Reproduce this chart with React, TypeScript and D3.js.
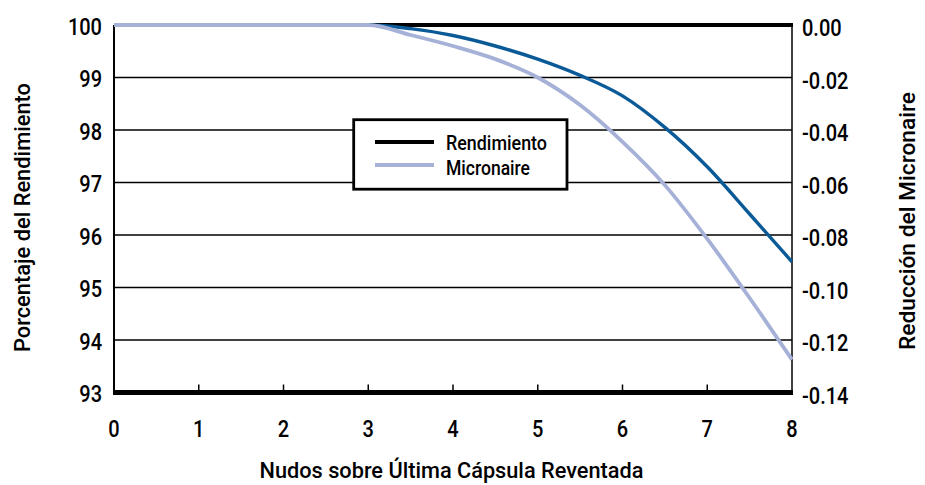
import React from "react";
import * as d3 from "d3";

// ---- data ----
const xTicks = [0, 1, 2, 3, 4, 5, 6, 7, 8];
const leftTicks = [93, 94, 95, 96, 97, 98, 99, 100];
const rightTickValues = [0, -0.02, -0.04, -0.06, -0.08, -0.1, -0.12, -0.14];
const rightTickLabels = ["0.00", "-0.02", "-0.04", "-0.06", "-0.08", "-0.10", "-0.12", "-0.14"];

const knots = [0, 1, 2, 3, 3.5, 4, 4.5, 5, 5.5, 6, 6.5, 7, 7.5, 8];
const rendimiento = [100, 100, 100, 100, 99.93, 99.8, 99.6, 99.35, 99.04, 98.65, 98.05, 97.3, 96.4, 95.49];
const micronaire = [0, 0, 0, 0, -0.0038, -0.008, -0.013, -0.02, -0.0305, -0.0445, -0.061, -0.0815, -0.104, -0.1275];

const seriesNames = ["Rendimiento", "Micronaire"];
const xTitle = "Nudos sobre Última Cápsula Reventada";
const yLeftTitle = "Porcentaje del Rendimiento";
const yRightTitle = "Reducción del Micronaire";

const FONT = "Roboto, 'Liberation Sans', Arial, sans-serif";
const DARK = "#0b5a98";
const LIGHT = "#a5b1d7";

export default function App() {
  const W = 925, H = 485;
  const m = { l: 114, r: 792, t: 25, b: 392.5 };
  const x = d3.scaleLinear().domain([0, 8]).range([m.l, m.r]);
  const yL = d3.scaleLinear().domain([93, 100]).range([m.b, m.t]);
  const yR = d3.scaleLinear().domain([-0.14, 0]).range([m.b, m.t]);

  const lineL = d3.line<number>()
    .x((_, i) => x(knots[i]))
    .y((d) => yL(d))
    .curve(d3.curveMonotoneX);
  const lineR = d3.line<number>()
    .x((_, i) => x(knots[i]))
    .y((d) => yR(d))
    .curve(d3.curveMonotoneX);

  const sx = 0.87;

  return (
    <svg width={W} height={H} style={{ position: "absolute", left: 0, top: 0, background: "#fff" }} fontFamily={FONT}>
      {/* gridlines */}
      {leftTicks.filter((t) => t !== 93 && t !== 100).map((t) => (
        <line key={"g" + t} x1={m.l} x2={m.r} y1={yL(t)} y2={yL(t)} stroke="#000" strokeWidth={1.5} />
      ))}
      {/* top & bottom thick lines */}
      <line x1={m.l} x2={m.r + 1} y1={yL(100)} y2={yL(100)} stroke="#000" strokeWidth={4} />
      <line x1={m.l - 1} x2={m.r + 1} y1={yL(93)} y2={yL(93)} stroke="#000" strokeWidth={5} />
      {/* side axes */}
      <line x1={m.l} x2={m.l} y1={m.t} y2={m.b} stroke="#000" strokeWidth={2} />
      <line x1={m.r} x2={m.r} y1={m.t} y2={m.b} stroke="#000" strokeWidth={1.5} />
      {/* x ticks */}
      {xTicks.filter((t) => t > 0 && t < 8).map((t) => (
        <line key={"xt" + t} x1={x(t)} x2={x(t)} y1={m.b} y2={m.b - 8} stroke="#000" strokeWidth={1.5} />
      ))}

      {/* series */}
      <path d={lineL(rendimiento) || ""} fill="none" stroke={DARK} strokeWidth={3.4} />
      <path d={lineR(micronaire) || ""} fill="none" stroke={LIGHT} strokeWidth={3.8} />

      {/* left tick labels */}
      {leftTicks.map((t) => (
        <text key={"lt" + t} transform={`translate(${102},${yL(t) + 9.5}) scale(${sx},1)`} textAnchor="end" fontSize={23} fontWeight={500} fill="#000">
          {t}
        </text>
      ))}
      {/* right tick labels */}
      {rightTickValues.map((v, i) => (
        <text key={"rt" + i} transform={`translate(${802},${yR(v) + 11}) scale(${sx},1)`} textAnchor="start" fontSize={23} fontWeight={500} fill="#000">
          {rightTickLabels[i]}
        </text>
      ))}
      {/* x tick labels */}
      {xTicks.map((t) => (
        <text key={"xl" + t} transform={`translate(${x(t)},${437}) scale(${sx},1)`} textAnchor="middle" fontSize={23} fontWeight={500} fill="#000">
          {t}
        </text>
      ))}

      {/* axis titles */}
      <text x={(m.l + m.r) / 2 - 1.5} y={478} textAnchor="middle" fontSize={22} fontWeight={500} textLength={384} lengthAdjust="spacingAndGlyphs" fill="#000">
        {xTitle}
      </text>
      <text transform={`translate(${30},${217.5}) rotate(-90)`} textAnchor="middle" fontSize={22} fontWeight={500} textLength={269} lengthAdjust="spacingAndGlyphs" fill="#000">
        {yLeftTitle}
      </text>
      <text transform={`translate(${915},${221}) rotate(-90)`} textAnchor="middle" fontSize={22} fontWeight={500} textLength={258} lengthAdjust="spacingAndGlyphs" fill="#000">
        {yRightTitle}
      </text>

      {/* legend */}
      <rect x={353.7} y={119.7} width={213.3} height={69.5} fill="#fff" stroke="#000" strokeWidth={2.8} />
      <line x1={375} x2={434} y1={142} y2={142} stroke="#000" strokeWidth={4} />
      <line x1={375} x2={434} y1={165} y2={165} stroke={LIGHT} strokeWidth={4} />
      <text x={446} y={150} fontSize={20} fontWeight={500} textLength={101} lengthAdjust="spacingAndGlyphs" fill="#000">{seriesNames[0]}</text>
      <text x={446} y={175} fontSize={20} fontWeight={500} textLength={84} lengthAdjust="spacingAndGlyphs" fill="#000">{seriesNames[1]}</text>
    </svg>
  );
}
